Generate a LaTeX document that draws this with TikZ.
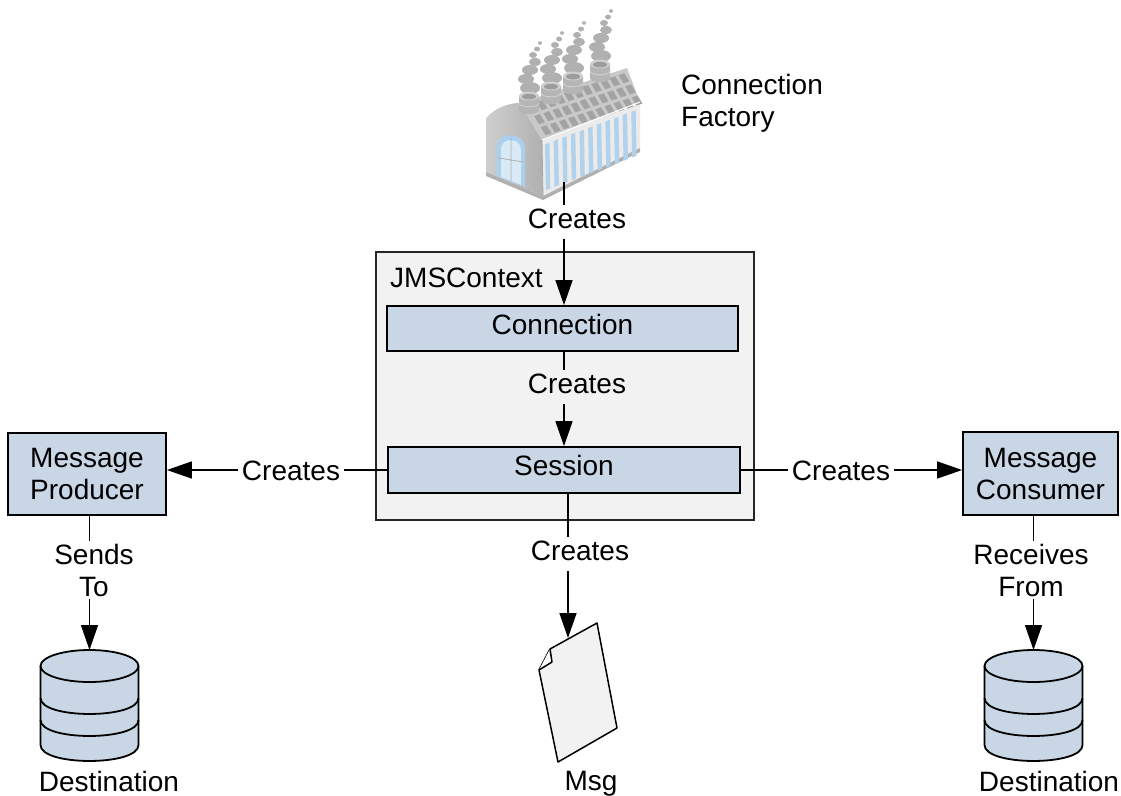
\documentclass[tikz,border=0pt]{standalone}
\usepackage{fontspec}
\setmainfont{Liberation Sans}
\usetikzlibrary{arrows.meta,calc}

\definecolor{boxblue}{RGB}{201,214,230}
\definecolor{ctxgray}{RGB}{242,242,242}
\definecolor{docgray}{RGB}{242,242,242}
\definecolor{doorblue}{RGB}{170,208,238}
\definecolor{stripblue}{RGB}{176,210,236}
\definecolor{smokegray}{RGB}{176,176,176}

\tikzset{
  % database cylinder with two bands, origin at the top of the lid
  dbpic/.pic={
    \path[fill=boxblue] (-49,16) -- (-49,95) .. controls (-49,116.3) and (49,116.3) .. (49,95) -- (49,16) -- cycle;
    \draw[line width=1.8pt, fill=boxblue] (0,16) ellipse [x radius=49pt, y radius=16pt];
    \draw[line width=1.8pt] (-49,16) -- (-49,95) .. controls (-49,116.3) and (49,116.3) .. (49,95) -- (49,16);
    \draw[line width=1.8pt] (-49,48) .. controls (-49,69.3) and (49,69.3) .. (49,48);
    \draw[line width=1.8pt] (-49,70) .. controls (-49,91.3) and (49,91.3) .. (49,70);
  },
  % chimney on the factory roof, origin at the centre of its rim
  stackpic/.pic={
    \fill[gray!58] (-10,0) -- (-10,14) .. controls (-10,19.5) and (10,19.5) .. (10,14) -- (10,0) -- cycle;
    \draw[gray!35, line width=0.8pt] (-10,7) .. controls (-10,12) and (10,12) .. (10,7);
    \fill[gray!38] (0,0) ellipse [x radius=10pt, y radius=4.5pt];
    \fill[gray!78] (0,0.6) ellipse [x radius=7pt, y radius=2.8pt];
  },
  % curling plume above a chimney
  smokepic/.pic={
    \fill[smokegray] (1,-8) ellipse [x radius=10pt, y radius=6pt];
    \fill[smokegray] (-3,-17) ellipse [x radius=8pt, y radius=5pt];
    \fill[smokegray] (1,-26) ellipse [x radius=8pt, y radius=5pt];
    \fill[smokegray] (6,-34) ellipse [x radius=6pt, y radius=4pt];
    \fill[smokegray] (4,-41) ellipse [x radius=4pt, y radius=3pt];
    \fill[smokegray] (8,-47) ellipse [x radius=3pt, y radius=2.5pt];
    \fill[smokegray] (11,-53) ellipse [x radius=2pt, y radius=1.8pt];
  }
}

\begin{document}
\begin{tikzpicture}[x=1pt, y=-1pt,
  every node/.style={font=\fontsize{28}{32}\selectfont, inner sep=0pt},
  ctxbox/.style={draw=black!85, line width=1.8pt, fill=ctxgray},
  onebox/.style={draw=black, line width=1.8pt, fill=boxblue, text height=20pt, text depth=9pt},
  twobox/.style={draw=black, line width=1.8pt, fill=boxblue, align=center},
  arrowline/.style={line width=1.5pt, -{Triangle[length=25pt,width=17pt]}},
  lbl/.style={fill=white, anchor=base, inner xsep=4pt, inner ysep=1pt, text height=22pt, text depth=10pt},
  lbltwo/.style={fill=white, align=center, inner xsep=3pt, inner ysep=3pt},
]
\useasboundingbox (0,0) rectangle (1121,795);

% ---------- connection factory icon ----------
% gable end
\shade[left color=gray!38, right color=gray!62]
  (486,118) .. controls (494,109) and (507,103) .. (520,103) -- (542,140) -- (543,196) -- (486,172) -- cycle;
% roof slope
\fill[gray!42] (520,103) -- (627,68) -- (640,102) -- (542,140) -- cycle;
% long side wall
\fill[gray!16] (542,140) -- (640,102) -- (640,148) -- (543,196) -- cycle;
% ground edge
\fill[gray!62] (486,172) -- (543,196) -- (640,148) -- (640,152) -- (543,200) -- (486,176) -- cycle;
% roof lights
\foreach \i in {0,...,10} {
  \foreach \j in {0,1,2} {
    \pgfmathsetmacro{\ua}{0.05+0.085*\i}
    \pgfmathsetmacro{\ub}{\ua+0.055}
    \pgfmathsetmacro{\va}{0.10+0.30*\j}
    \pgfmathsetmacro{\vb}{\va+0.22}
    \fill[gray!72] ({520+107*\ua+22*\va},{103-35*\ua+37*\va})
      -- ({520+107*\ub+22*\va},{103-35*\ub+37*\va})
      -- ({520+107*\ub+22*\vb},{103-35*\ub+37*\vb})
      -- ({520+107*\ua+22*\vb},{103-35*\ua+37*\vb}) -- cycle;
  }
}
% tall windows in the side wall
\foreach \i in {0,...,10} {
  \pgfmathsetmacro{\ua}{0.03+0.088*\i}
  \pgfmathsetmacro{\ub}{\ua+0.045}
  \fill[stripblue] ({542+98*\ua+0.10},{140-37*\ua+5.5})
    -- ({542+98*\ub+0.10},{140-37*\ub+5.5})
    -- ({542+98*\ub+0.93},{140-37*\ub+51.2})
    -- ({542+98*\ua+0.93},{140-37*\ua+51.2}) -- cycle;
}
\draw[white, line width=1pt] (542,140) -- (640,102);
\draw[gray!70, line width=0.8pt] (542,140) -- (543,196);
% arched door
\fill[doorblue] (497,176) -- (497,147) .. controls (497,131) and (525,131) .. (525,148) -- (525,187) -- cycle;
\fill[white!55!doorblue] (501,177) -- (501,149) .. controls (501,137) and (521,137) .. (521,150) -- (521,185) -- cycle;
\draw[gray!65, line width=0.8pt] (511,138) -- (511,181) (499,158) -- (523,162);
% chimneys and smoke, back to front
\pic at (600,64) {smokepic};
\pic at (573,76) {smokepic};
\pic at (551,86) {smokepic};
\pic at (529,96) {smokepic};
\pic at (600,64) {stackpic};
\pic at (573,76) {stackpic};
\pic at (551,86) {stackpic};
\pic at (529,96) {stackpic};
\coordinate (facbot) at (564,182);

\node[align=left, anchor=north west] (cflbl) at (681,74) {Connection\\Factory};

% ---------- JMSContext with its connection and session ----------
\node[ctxbox, anchor=north west, minimum width=378pt, minimum height=268pt] (ctx) at (375,251) {};
\node[anchor=base west] (ctxname) at (390,287) {JMSContext};
\node[onebox, minimum width=351pt, minimum height=45pt] (conn) at (562.5,328.5) {Connection};
\node[onebox, minimum width=352pt, minimum height=46pt] (sess) at (564,470) {Session};

% ---------- producer and consumer ----------
\node[twobox, minimum width=158pt, minimum height=82pt] (prod) at (87,474) {Message\\Producer};
\node[twobox, minimum width=155pt, minimum height=83pt] (cons) at (1040.5,473.5) {Message\\Consumer};

% ---------- destinations ----------
\coordinate (dbLtop) at (89.5,650);
\coordinate (dbRtop) at (1033.5,650);
\pic at (dbLtop) {dbpic};
\pic at (dbRtop) {dbpic};
\node[anchor=base] (dstL) at (109,791) {Destination};
\node[anchor=base] (dstR) at (1049,791) {Destination};

% ---------- message ----------
\filldraw[fill=docgray, line width=1.5pt, line join=round]
  (597,623) -- (550,649) -- (539,670) -- (558,762) -- (617,728) -- cycle;
\filldraw[fill=white, line width=1.5pt, line join=round] (550,649) -- (552,662) -- (539,670);
\coordinate (msgtip) at (568,638);
\node[anchor=base] (msglbl) at (591,790) {Msg};

% ---------- connectors ----------
\draw[arrowline] (facbot) -- (facbot |- conn.north);
\draw[arrowline] (conn.south -| sess.north) -- (sess.north);
\draw[arrowline] (sess.west) -- (sess.west -| prod.east);
\draw[arrowline] (sess.east) -- (sess.east -| cons.west);
\draw[arrowline] (sess.south -| msgtip) -- (msgtip);
\draw[arrowline] (prod.south -| dbLtop) -- (dbLtop);
\draw[arrowline] (cons.south -| dbRtop) -- (dbRtop);

% ---------- connector labels ----------
\node[lbl] (lblfac) at (577,228) {Creates};
\node[lbl, fill=ctxgray] (lblconn) at (577,393) {Creates};
\node[lbl] (lblprod) at (291,480) {Creates};
\node[lbl] (lblcons) at (841,480) {Creates};
\node[lbl] (lblmsg) at (580,560) {Creates};
\node[lbltwo] (lblsend) at (94,570) {Sends\\To};
\node[lbltwo] (lblrecv) at (1031,570) {Receives\\From};
\end{tikzpicture}
\end{document}
